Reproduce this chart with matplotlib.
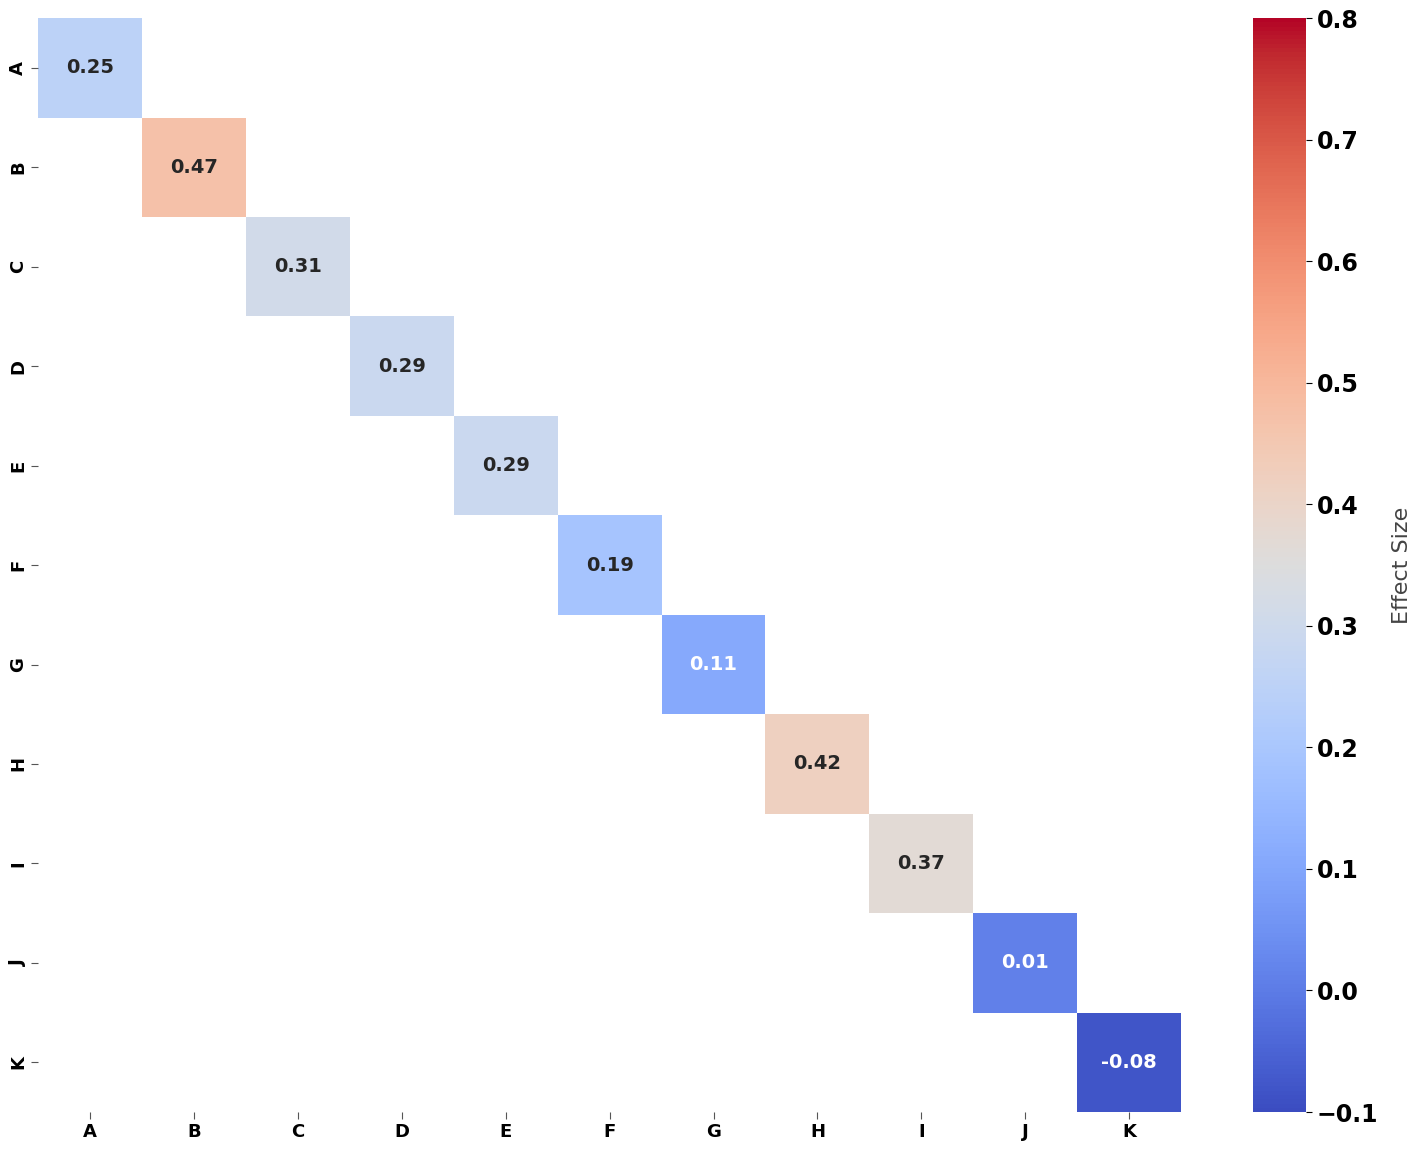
import numpy as np
import matplotlib
matplotlib.use("Agg")
import matplotlib.pyplot as plt
import seaborn as sns

labels = ["A", "B", "C", "D", "E", "F", "G", "H", "I", "J", "K"]
effects = [0.25, 0.47, 0.31, 0.29, 0.29, 0.19, 0.11, 0.42, 0.37, 0.01, -0.08]
cbar_ticks = [-0.1, 0.0, 0.1, 0.2, 0.3, 0.4, 0.5, 0.6, 0.7, 0.8]

n = len(labels)
mat = np.full((n, n), np.nan)
for i, v in enumerate(effects):
    mat[i, i] = v

fig = plt.figure(figsize=(14.18, 11.5), dpi=100)
ax = fig.add_axes([0.0268, 0.033, 0.8062, 0.9513])
cax = fig.add_axes([0.8836, 0.033, 0.0374, 0.9513])

sns.heatmap(mat, ax=ax, cbar_ax=cax, cmap="coolwarm", vmin=-0.1, vmax=0.8,
            annot=True, fmt=".2f", annot_kws={"fontsize": 14, "fontweight": "bold"},
            xticklabels=labels, yticklabels=labels,
            cbar_kws={"ticks": cbar_ticks})

ax.set_xticklabels(labels, fontsize=13, fontweight="bold", rotation=0)
ax.set_yticklabels(labels, fontsize=13, fontweight="bold", rotation=90, va="center")
ax.tick_params(axis="both", length=5, color="#555555", pad=3)

cax.tick_params(labelsize=17, length=4)
for t in cax.get_yticklabels():
    t.set_fontweight("bold")
cax.set_ylabel("Effect Size", fontsize=16, color="#444444", labelpad=10)

fig.savefig("out.png", dpi=100)
